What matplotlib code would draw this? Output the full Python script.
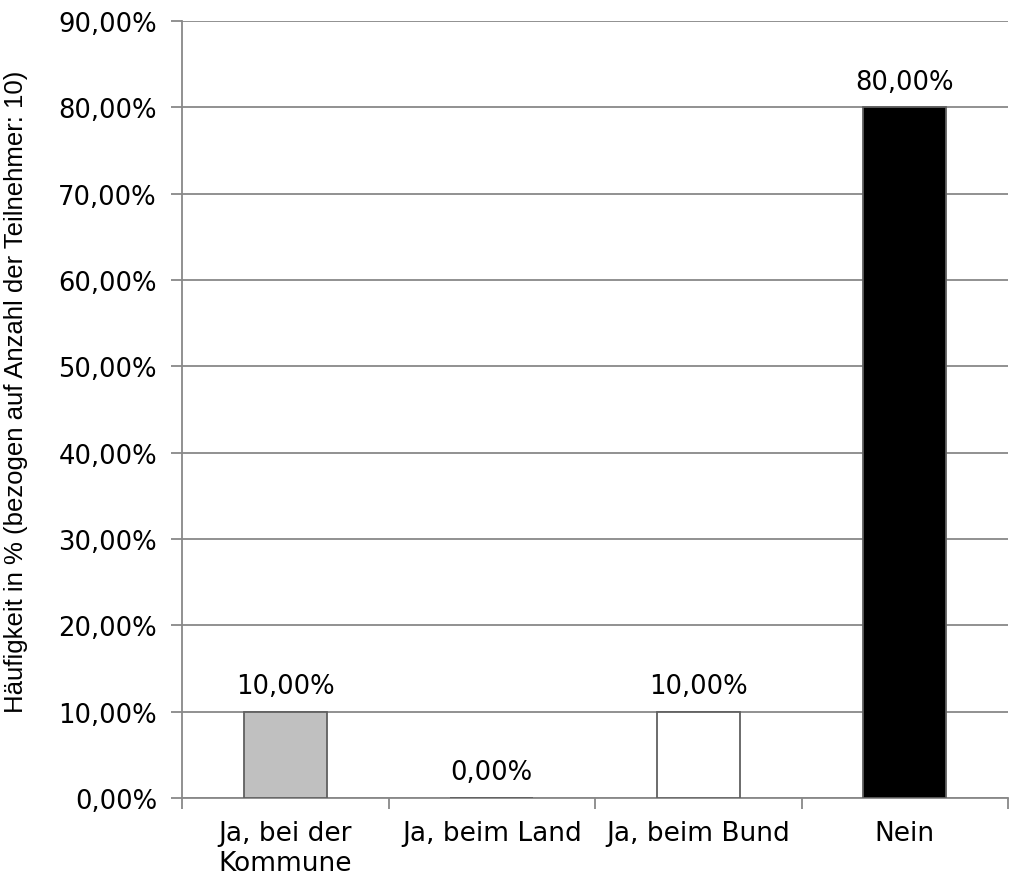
import glob
import matplotlib
matplotlib.use("Agg")
import matplotlib.pyplot as plt
from matplotlib import font_manager
from matplotlib.font_manager import FontProperties
from matplotlib.ticker import FuncFormatter, MultipleLocator

categories = ["Ja, bei der\nKommune", "Ja, beim Land", "Ja, beim Bund", "Nein"]
values = [10.0, 0.0, 10.0, 80.0]
bar_colors = ["#c0c0c0", "#ffffff", "#ffffff", "#000000"]
y_label = "Häufigkeit in % (bezogen auf Anzahl der Teilnehmer: 10)"


def pct(v):
    return f"{v:.2f}".replace(".", ",") + "%"


def arial_like():
    # locate the regular (non-narrow) Liberation Sans face on disk
    hits = [p for p in glob.glob("/usr/**/LiberationSans-Regular.ttf", recursive=True)]
    if not hits:
        hits = [f.fname for f in font_manager.fontManager.ttflist
                if f.fname.endswith("LiberationSans-Regular.ttf")]
    if hits:
        return FontProperties(fname=hits[0])
    return FontProperties(family="Liberation Sans")


label_font = arial_like()
label_font.set_size(18.5)

fig = plt.figure(figsize=(10.10, 8.78), dpi=100)
ax = fig.add_axes([182 / 1010, 79 / 878, (1008 - 182) / 1010, (799 - 22) / 878])

grid_c = "#888888"
x = list(range(len(categories)))
bars = ax.bar(x, values, width=0.4, color=bar_colors, edgecolor="#606060",
              linewidth=1.3, zorder=3)

ax.set_xlim(-0.5, len(categories) - 0.5)
ax.set_ylim(0, 90)
ax.yaxis.set_major_locator(MultipleLocator(10))
ax.yaxis.set_major_formatter(FuncFormatter(lambda v, _: pct(v)))
ax.grid(axis="y", color=grid_c, linewidth=1.3, zorder=0)
ax.set_axisbelow(True)

for s in ["top", "right"]:
    ax.spines[s].set_visible(False)
for s in ["left", "bottom"]:
    ax.spines[s].set_color(grid_c)
    ax.spines[s].set_linewidth(1.3)

ax.set_xticks(x)
ax.set_xticklabels(categories, fontsize=19, fontfamily="DejaVu Sans")
ax.tick_params(axis="x", length=0, pad=16)
ax.set_xticks([i - 0.5 for i in range(len(categories) + 1)], minor=True)
ax.tick_params(axis="x", which="minor", length=8, width=1.3, color=grid_c,
               direction="out")
ax.tick_params(axis="y", length=8, width=1.3, color=grid_c, labelsize=18.6, pad=10)
for t in ax.get_yticklabels():
    t.set_fontfamily("DejaVu Sans")

ax.set_ylabel(y_label, fontproperties=label_font)
ax.yaxis.set_label_coords(-0.186, 0.524)

for b, v in zip(bars, values):
    ax.annotate(pct(v), (b.get_x() + b.get_width() / 2, v),
                xytext=(0, 9), textcoords="offset points",
                ha="center", va="bottom", fontsize=18.6, fontfamily="DejaVu Sans")

fig.savefig("out.png", dpi=100, facecolor="white")
